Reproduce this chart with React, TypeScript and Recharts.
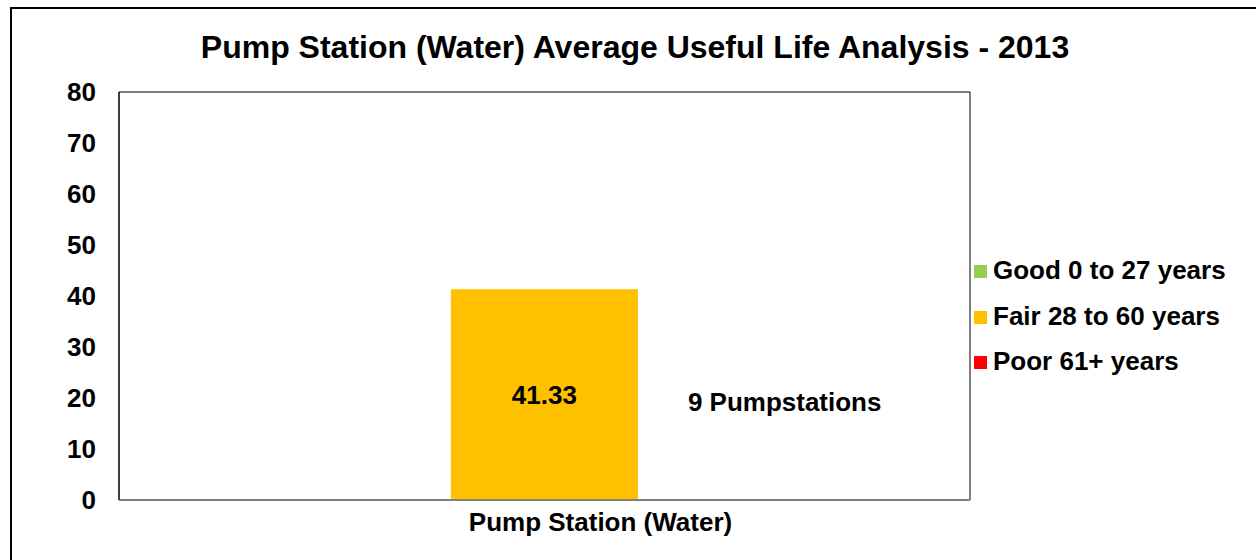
import {
  Bar,
  BarChart,
  LabelList,
  ReferenceArea,
  XAxis,
  YAxis,
} from "recharts";

const categories = ["Pump Station (Water)"];
const fairValues = [41.33];
const stationNotes = ["9 Pumpstations"];
const yTicks = [0, 10, 20, 30, 40, 50, 60, 70, 80];
const legendItems = [
  { label: "Good 0 to 27 years", color: "#92D050" },
  { label: "Fair 28 to 60 years", color: "#FFC000" },
  { label: "Poor 61+ years", color: "#FF0000" },
];

const data = categories.map((name, i) => ({
  name,
  fair: fairValues[i],
  note: stationNotes[i],
}));

const FONT = "'Liberation Sans', Arial, sans-serif";
const FS = 26;

function BarLabels(props: any) {
  const { x, y, width, height, index } = props;
  const cx = x + width / 2;
  const cy = y + height / 2;
  return (
    <g fontFamily={FONT} fontWeight="bold" fontSize={FS} fill="#000">
      <text x={cx} y={cy} textAnchor="middle" dominantBaseline="central">
        {fairValues[index].toFixed(2)}
      </text>
      <text x={x + width + 50} y={cy + 7} dominantBaseline="central">
        {stationNotes[index]}
      </text>
    </g>
  );
}

function LegendBox() {
  return (
    <div
      style={{
        position: "absolute",
        left: 974,
        top: 248,
        fontFamily: FONT,
        fontWeight: "bold",
        fontSize: FS,
        whiteSpace: "nowrap",
      }}
    >
      {legendItems.map((it) => (
        <div
          key={it.label}
          style={{ display: "flex", alignItems: "center", height: 45.5 }}
        >
          <span
            style={{
              width: 13,
              height: 13,
              background: it.color,
              marginRight: 6,
              marginTop: 2,
              display: "inline-block",
            }}
          />
          <span>{it.label}</span>
        </div>
      ))}
    </div>
  );
}

export default function App() {
  return (
    <div
      style={{
        position: "absolute",
        left: 0,
        top: 0,
        width: 1256,
        height: 560,
        overflow: "hidden",
        background: "#fff",
      }}
    >
      <div
        style={{
          position: "absolute",
          left: 10,
          top: 7,
          width: 1400,
          height: 700,
          border: "2px solid #000",
        }}
      />
      <div
        style={{
          position: "absolute",
          left: 0,
          width: 1270,
          top: 28,
          textAlign: "center",
          fontFamily: FONT,
          fontWeight: "bold",
          fontSize: 32,
          lineHeight: "38px",
        }}
      >
        Pump Station (Water) Average Useful Life Analysis - 2013
      </div>
      <div style={{ position: "absolute", left: 0, top: 0 }}>
        <BarChart
          width={1256}
          height={560}
          data={data}
          barCategoryGap="39%"
          margin={{ top: 92, right: 286, bottom: 20, left: 39 }}
        >
          <ReferenceArea
            y1={0}
            y2={80}
            fill="none"
            stroke="#000"
            strokeWidth={1}
            ifOverflow="visible"
          />
          <XAxis
            dataKey="name"
            tickLine={false}
            tickSize={0}
            tickMargin={13}
            height={40}
            axisLine={{ stroke: "#808080", strokeWidth: 2 }}
            tick={{
              fill: "#000",
              fontSize: FS,
              fontWeight: "bold",
              fontFamily: FONT,
              dx: 56,
            }}
          />
          <YAxis
            domain={[0, 80]}
            ticks={yTicks}
            width={80}
            tickLine={false}
            tickSize={0}
            tickMargin={23}
            axisLine={{ stroke: "#000" }}
            tick={{
              fill: "#000",
              fontSize: FS,
              fontWeight: "bold",
              fontFamily: FONT,
            }}
          />
          <Bar dataKey="fair" fill="#FFC000" isAnimationActive={false}>
            <LabelList dataKey="fair" content={<BarLabels />} />
          </Bar>
        </BarChart>
      </div>
      <LegendBox />
    </div>
  );
}
